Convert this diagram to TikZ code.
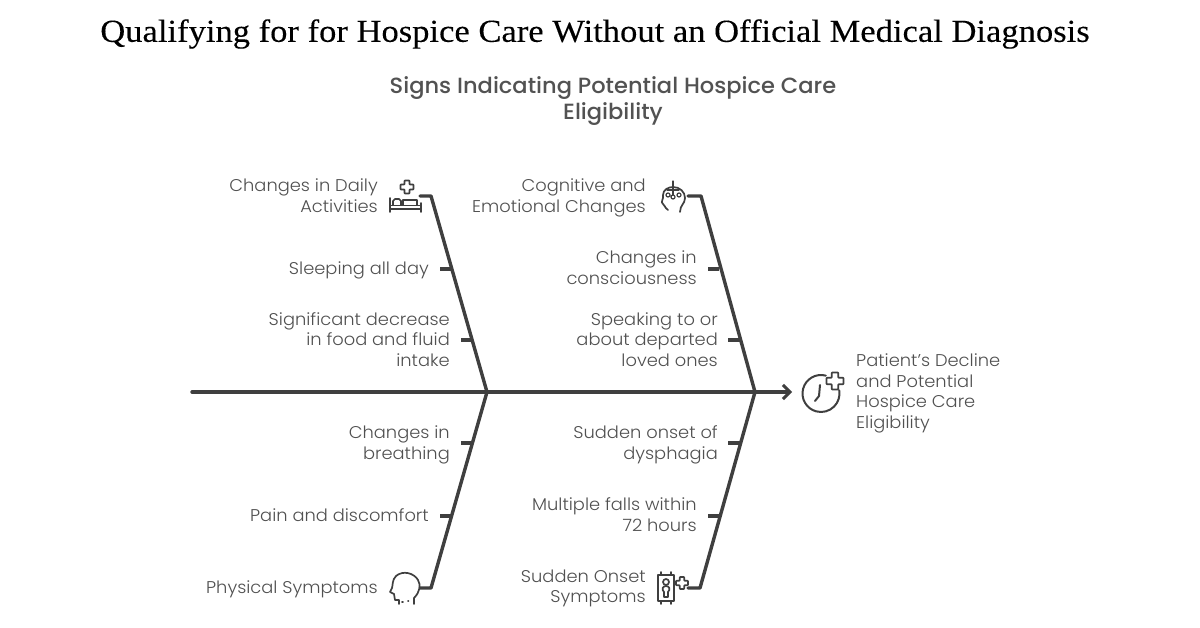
\documentclass[tikz,border=0pt]{standalone}
\usepackage{fontspec}
\setmainfont[FakeStretch=1.05]{Poppins Light}
\newfontfamily\subfont[FakeStretch=1.025]{Poppins Medium}
\newfontfamily\titlefont[FakeStretch=1.08,FakeBold=0.15]{Liberation Serif}
\usetikzlibrary{arrows.meta}
\definecolor{ink}{HTML}{3F3F3F}
\definecolor{txt}{HTML}{505050}
\tikzset{
  x=1pt,y=-1pt,
  spine/.style={draw=ink,line width=3.4pt,line cap=round,line join=round},
  tick/.style={draw=ink,line width=3.4pt},
  ico/.style={draw=ink,line width=1.7pt,line cap=round,line join=round,fill=none},
  lab/.style={text=txt,font=\fontsize{17}{20.5}\selectfont,inner sep=0pt,align=right,anchor=east,yshift=-2.5pt,execute at begin node=\strut,execute at end node=\strut},
  labl/.style={text=txt,font=\fontsize{17}{20.5}\selectfont,inner sep=0pt,align=left,anchor=west,yshift=-2.5pt,execute at begin node=\strut,execute at end node=\strut},
}
\begin{document}
\begin{tikzpicture}
\useasboundingbox (0,0) rectangle (1200,628);
\fill[white] (0,0) rectangle (1200,628);
\node[inner sep=0pt,font=\titlefont\fontsize{32}{38}\selectfont,text=black] (title) at (595,34) {Qualifying for for Hospice Care Without an Official Medical Diagnosis};
\node[inner sep=0pt,align=center,text=ink!90,font=\subfont\fontsize{22}{26}\selectfont] (sub) at (613,101) {Signs Indicating Potential Hospice Care\\Eligibility};
% labels
\node[lab] (a0) at (378,196) {Changes in Daily\\Activities};
\node[lab] (a1) at (429,268) {Sleeping all day};
\node[lab] (a2) at (450,340) {Significant decrease\\in food and fluid\\intake};
\node[lab] (b0) at (646,196) {Cognitive and\\Emotional Changes};
\node[lab] (b1) at (697,268) {Changes in\\consciousness};
\node[lab] (b2) at (718,340) {Speaking to or\\about departed\\loved ones};
\node[lab] (c1) at (450,443) {Changes in\\breathing};
\node[lab] (c2) at (429,515) {Pain and discomfort};
\node[lab] (c0) at (378,587) {Physical Symptoms};
\node[lab] (d1) at (718,443) {Sudden onset of\\dysphagia};
\node[lab] (d2) at (697,515) {Multiple falls within\\72 hours};
\node[lab] (d0) at (646,587) {Sudden Onset\\Symptoms};
\node[labl] (res) at (856,391.5) {Patient's Decline\\and Potential\\Hospice Care\\Eligibility};
% joints
\coordinate (tail) at (192,392);
\coordinate (head) at (792,392);
\coordinate (j1) at (487,392);
\coordinate (j2) at (755,392);
\coordinate (ae) at (420,196); \coordinate (ak) at (431,196);
\coordinate (be) at (688,196); \coordinate (bk) at (701,196);
\coordinate (ce) at (420,588); \coordinate (ck) at (431,588);
\coordinate (de) at (688,588); \coordinate (dk) at (700,588);
% spine and bones
\draw[spine,-{Straight Barb[length=7pt,width=14pt,line width=3pt]}] (tail) -- (head);
\draw[spine] (ae) -- (ak) -- (j1) -- (ck) -- (ce);
\draw[spine] (be) -- (bk) -- (j2) -- (dk) -- (de);
% ticks
\coordinate (t1) at (451,269); \coordinate (t1e) at (440,269);
\coordinate (t2) at (472,340); \coordinate (t2e) at (461,340);
\coordinate (t3) at (719,269); \coordinate (t3e) at (708,269);
\coordinate (t4) at (740,340); \coordinate (t4e) at (728,340);
\coordinate (t5) at (472,443); \coordinate (t5e) at (461,443);
\coordinate (t6) at (451,516); \coordinate (t6e) at (440,516);
\coordinate (t7) at (740,443); \coordinate (t7e) at (728,443);
\coordinate (t8) at (719,516); \coordinate (t8e) at (708,516);
\foreach \p/\q in {t1/t1e,t2/t2e,t3/t3e,t4/t4e,t5/t5e,t6/t6e,t7/t7e,t8/t8e}{\draw[tick] (\p) -- (\q);}
% plus sign macro
\newcommand{\plusicon}[3]{\draw[ico,rounded corners=0.6pt] (#1-#3*.38,#2-#3) -- (#1+#3*.38,#2-#3) -- (#1+#3*.38,#2-#3*.38) -- (#1+#3,#2-#3*.38) -- (#1+#3,#2+#3*.38) -- (#1+#3*.38,#2+#3*.38) -- (#1+#3*.38,#2+#3) -- (#1-#3*.38,#2+#3) -- (#1-#3*.38,#2+#3*.38) -- (#1-#3,#2+#3*.38) -- (#1-#3,#2-#3*.38) -- (#1-#3*.38,#2-#3*.38) -- cycle;}
% bed icon
\plusicon{407}{187}{6.5}
\draw[ico] (390,198) -- (390,212) (421,203) -- (421,212) (390,205.5) -- (421,205.5) (390,209) -- (421,209);
\draw[ico] (393,205) -- (393,201) -- (395,199) -- (399,199) -- (401,201) -- (401,205);
\draw[ico] (403,205) -- (403,200) -- (417,200) -- (417,205);
% head with scales
\draw[ico] (668,210) .. controls (664,207) and (665,205) .. (663,204) .. controls (660,202) and (664,199) .. (663,195) .. controls (663,190) and (668,187) .. (673,187) .. controls (680,187) and (685,192) .. (685,198) .. controls (685,204) and (680,205) .. (680,212);
\draw[ico,line width=1.2pt] (673,181) -- (673,195) (667,190) -- (679,190);
\draw[ico,line width=1.2pt] (668,195) circle (2) (679,195) circle (2) (673,197) circle (2);
% profile head
\draw[ico] (414,604) -- (414,598) .. controls (420,592) and (421,585) .. (418,580) .. controls (414,573) and (403,570) .. (396,576) .. controls (392,580) and (393,585) .. (392,588) -- (390,592) -- (394,594) -- (395,600) -- (399,600) -- (399,604);
\draw[ico] (402,602) -- (403,602) (408,601) -- (408.5,601);
% device icon
\draw[ico] (658,575) rectangle (674,601);
\draw[ico] (661,572) -- (661,575) (671,572) -- (671,575) (661,601) -- (661,604) (671,601) -- (671,604);
\draw[ico] (666,582) circle (3);
\draw[ico] (664,597) -- (664,592) .. controls (661,589) and (663,586) .. (666,586) .. controls (669,586) and (671,589) .. (668,592) -- (668,597) -- cycle;
\plusicon{682}{583}{6}
% clock icon
\draw[ico,line width=2pt] (821,393.5) ++(-75:18.5) arc[start angle=-75,end angle=-370,radius=18.5];
\draw[ico,line width=2pt] (820,385) -- (819,396) -- (815,401);
\plusicon{835}{381}{8.5}
\end{tikzpicture}
\end{document}
